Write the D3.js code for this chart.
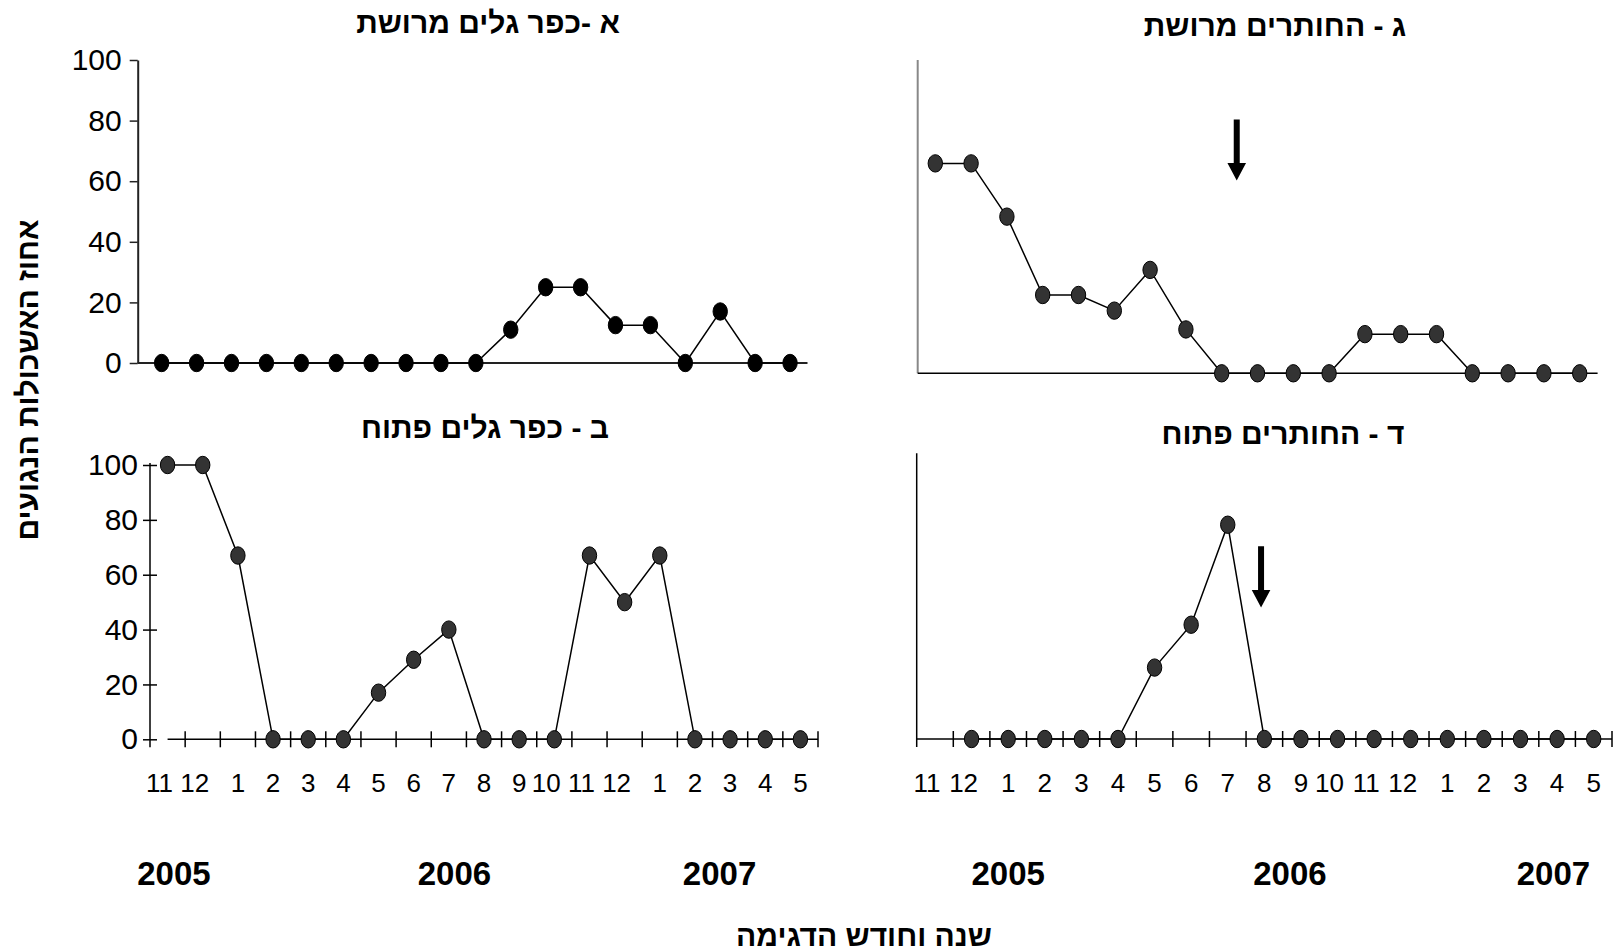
<!DOCTYPE html>
<html lang="he">
<head>
<meta charset="utf-8">
<script src="https://cdn.jsdelivr.net/npm/d3@7"></script>
<style>
  body { margin: 0; background: #fff; }
  svg { display: block; font-family: "Liberation Sans", Arial, sans-serif; }
  .bold { font-weight: bold; }
</style>
</head>
<body>
<div id="chart"></div>
<script>
// month of each sample, 11/2005 .. 5/2007
const months = ['11', '12', '1', '2', '3', '4', '5', '6', '7', '8', '9', '10', '11', '12', '1', '2', '3', '4', '5']
const years = ['2005', '2006', '2007']
// category position of each year label, left and right panels
const yearPosLeft = [0.18, 8.16, 15.7]
const yearPosRight = [2.0, 9.7, 16.9]
const yTicks = [0, 20, 40, 60, 80, 100]

// percent of infected clusters
const valuesA = [0, 0, 0, 0, 0, 0, 0, 0, 0, 0, 11, 25, 25, 12.5, 12.5, 0, 17, 0, 0]
const valuesB = [100, 100, 67, 0, 0, 0, 17, 29, 40, 0, 0, 0, 67, 50, 67, 0, 0, 0, 0]
const valuesC = [67, 67, 50, 25, 25, 20, 33, 14, 0, 0, 0, 0, 12.5, 12.5, 12.5, 0, 0, 0, 0]
const valuesD = [null, 0, 0, 0, 0, 0, 25, 40, 75, 0, 0, 0, 0, 0, 0, 0, 0, 0, 0]

const titles = ['א -כפר גלים מרושת', 'ב - כפר גלים פתוח', 'ג - החותרים מרושת', 'ד - החותרים פתוח']

const width = 1619
const height = 952
const idx = d3.range(months.length)

const svg = d3.select('#chart').append('svg').attr('width', width).attr('height', height)

const panels = [
    { values: valuesA, title: titles[0], titleX: 488, titleY: 33, xr: [144.2, 807.5], yr: [363, 60], axisX: 137.7, fill: '#000' },
    { values: valuesB, title: titles[1], titleX: 485, titleY: 438, xr: [150, 818], yr: [739.3, 465], axisX: 150, fill: '#333', yearPos: yearPosLeft },
    { values: valuesC, title: titles[2], titleX: 1275, titleY: 36, xr: [917.4, 1597.6], yr: [373.3, 60], axisX: 917.7, fill: '#333' },
    { values: valuesD, title: titles[3], titleX: 1283, titleY: 444, xr: [916.7, 1612], yr: [739, 453.3], axisX: 916.7, fill: '#333', yearPos: yearPosRight }
]

panels.forEach((p, pi) => {
    const g = svg.append('g')
    const x = d3.scaleBand().domain(idx).range(p.xr).padding(0)
    const y = d3.scaleLinear().domain([0, 100]).range(p.yr)
    p.x = x
    p.y = y
    const cx = (i) => x(i) + x.bandwidth() / 2
    const y0 = y(0)

    g.append('text').attr('class', 'bold').attr('x', p.titleX).attr('y', p.titleY)
        .attr('text-anchor', 'middle').attr('font-size', 30).attr('direction', 'rtl')
        .text(p.title)

    if (pi === 0) {
        const yAxis = d3.axisLeft(y).tickValues(yTicks).tickSize(8).tickPadding(8).tickSizeOuter(0)
        const ag = g.append('g').attr('transform', `translate(${p.axisX},0)`).call(yAxis)
        ag.select('.domain').attr('stroke', '#222').attr('stroke-width', 2)
        ag.selectAll('.tick line').attr('stroke', '#222').attr('stroke-width', 1.5)
        ag.selectAll('.tick text').attr('font-size', 30).attr('fill', '#000').attr('font-family', 'Liberation Sans, Arial, sans-serif')
        g.append('line').attr('x1', p.axisX).attr('x2', p.xr[1]).attr('y1', y0).attr('y2', y0)
            .attr('stroke', '#222').attr('stroke-width', 2)
    }
    if (pi === 1) {
        const yAxis = d3.axisLeft(y).tickValues(yTicks).tickSize(7).tickPadding(5).tickSizeOuter(0)
        const ag = g.append('g').attr('transform', `translate(${p.axisX},0)`).call(yAxis)
        ag.select('.domain').remove()
        ag.selectAll('.tick line').attr('x1', 7).attr('stroke', '#000').attr('stroke-width', 1.5)
        ag.selectAll('.tick text').attr('font-size', 30).attr('fill', '#000').attr('font-family', 'Liberation Sans, Arial, sans-serif')
        g.append('line').attr('x1', p.axisX).attr('x2', p.axisX).attr('y1', y(100) - 2).attr('y2', y0 + 8)
            .attr('stroke', '#000').attr('stroke-width', 1.5)
    }
    if (pi === 2) {
        g.append('line').attr('x1', p.axisX).attr('x2', p.axisX).attr('y1', y(100)).attr('y2', y0)
            .attr('stroke', '#888').attr('stroke-width', 2)
        g.append('line').attr('x1', p.axisX).attr('x2', p.xr[1]).attr('y1', y0).attr('y2', y0)
            .attr('stroke', '#000').attr('stroke-width', 1.5)
    }
    if (pi === 3) {
        g.append('line').attr('x1', p.axisX).attr('x2', p.axisX).attr('y1', y(100)).attr('y2', y0 + 8)
            .attr('stroke', '#000').attr('stroke-width', 1.5)
    }

    // category axis with crossing ticks and month labels (bottom panels)
    if (pi === 1 || pi === 3) {
        const start = pi === 1 ? cx(0) : p.xr[0]
        g.append('line').attr('x1', start).attr('x2', p.xr[1]).attr('y1', y0).attr('y2', y0)
            .attr('stroke', '#000').attr('stroke-width', 1.5)
        const edges = idx.map((i) => x(i)).concat([p.xr[1]])
        g.selectAll('.xtick').data(edges.slice(1)).enter().append('line')
            .attr('x1', (d) => d).attr('x2', (d) => d).attr('y1', y0 - 8).attr('y2', y0 + 8)
            .attr('stroke', '#000').attr('stroke-width', 1.5)
        g.selectAll('.mlabel').data(months).enter().append('text')
            .attr('x', (d, i) => cx(i) + (d.length > 1 ? -8 : 0))
            .attr('y', 792).attr('text-anchor', 'middle').attr('font-size', 26).text((d) => d)
        g.selectAll('.ylabel').data(years).enter().append('text').attr('class', 'bold')
            .attr('x', (d, i) => cx(0) + p.yearPos[i] * x.step())
            .attr('y', 885).attr('text-anchor', 'middle').attr('font-size', 33).text((d) => d)
    }

    const line = d3.line().defined((d) => d != null).x((d, i) => cx(i)).y((d) => y(d))
    g.append('path').datum(p.values).attr('d', line).attr('fill', 'none')
        .attr('stroke', '#000').attr('stroke-width', 1.5)

    g.selectAll('.dot').data(p.values.map((v, i) => ({ v, i })).filter((d) => d.v != null))
        .enter().append('ellipse')
        .attr('cx', (d) => cx(d.i)).attr('cy', (d) => y(d.v))
        .attr('rx', 7.2).attr('ry', 8.7)
        .attr('fill', p.fill).attr('stroke', '#000').attr('stroke-width', 1)
})

// arrows marking the treatment date
const arrows = [
    { panel: 2, month: 8, frac: 0.92, top: 81, tip: 61.5 },
    { panel: 3, month: 9, frac: 0.41, top: 67.5, tip: 46 }
]
arrows.forEach((a) => {
    const p = panels[a.panel]
    const ax = p.x(a.month) + p.x.bandwidth() * a.frac
    const yTop = p.y(a.top)
    const yTip = p.y(a.tip)
    const headBase = yTip - 17.5
    svg.append('path')
        .attr('d', `M${ax - 3},${yTop} L${ax + 3},${yTop} L${ax + 3},${headBase} L${ax + 9.3},${headBase} L${ax},${yTip} L${ax - 9.3},${headBase} L${ax - 3},${headBase} Z`)
        .attr('fill', '#000')
})

// axis titles
svg.append('text').attr('class', 'bold').attr('transform', 'translate(38,380) rotate(-90)')
    .attr('text-anchor', 'middle').attr('font-size', 30).attr('direction', 'rtl')
    .text('אחוז האשכולות הנגועים')
svg.append('text').attr('class', 'bold').attr('x', 864).attr('y', 946)
    .attr('text-anchor', 'middle').attr('font-size', 30).attr('direction', 'rtl')
    .text('שנה וחודש הדגימה')
</script>
</body>
</html>
